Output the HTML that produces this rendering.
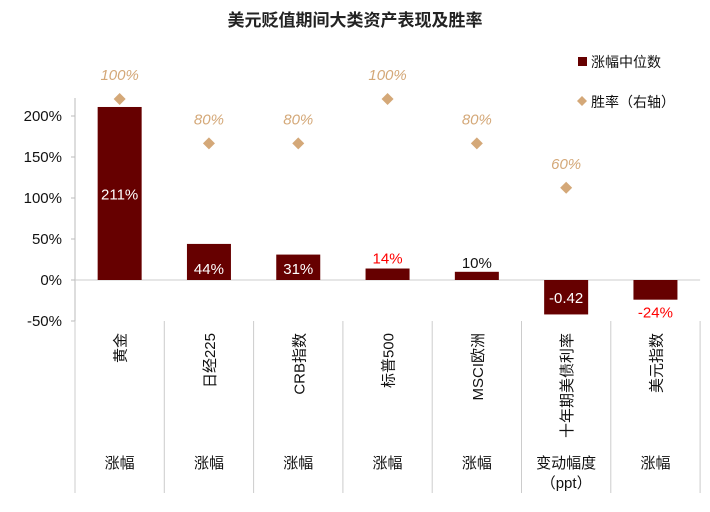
<!DOCTYPE html>
<html><head><meta charset="utf-8"><style>
body{margin:0;background:#fff;}
svg text{font-family:"Liberation Sans","Noto Sans CJK SC",sans-serif;}
</style></head><body>
<svg width="710" height="507" viewBox="0 0 710 507">
<text x="355" y="26" text-anchor="middle" font-size="17" font-weight="bold" fill="#222">美元贬值期间大类资产表现及胜率</text>
<g id="axes"></g><g id="bars"></g><g id="dots"></g><g id="labels"></g>
<g>
<rect x="578" y="57" width="9" height="9" fill="#660000"/>
<text x="591" y="67" font-size="14" fill="#111">涨幅中位数</text>
<path d="M582 96 L587 101 L582 106 L577 101 Z" fill="#d4a878"/>
<text x="591" y="107" font-size="14" fill="#111">胜率（右轴）</text>
</g>
</svg>
<script>
const categories=["黄金","日经225","CRB指数","标普500","MSCI欧洲","十年期美债利率","美元指数"];
const subLabels=["涨幅","涨幅","涨幅","涨幅","涨幅","变动幅度","涨幅"];
const barValues=[211,44,31,14,10,-42,-24];
const barLabels=["211%","44%","31%","14%","10%","-0.42","-24%"];
const winRates=[100,80,80,100,80,60,null];
const yTicks=[-50,0,50,100,150,200];
const NS="http://www.w3.org/2000/svg";
const x0=75,catW=89.3,zeroY=280;
const yL=v=>zeroY-v*0.82;
const yR=v=>321-v*2.22;
function mk(tag,attrs,parent,txt){const e=document.createElementNS(NS,tag);for(const k in attrs)e.setAttribute(k,attrs[k]);if(txt!=null)e.textContent=txt;document.getElementById(parent).appendChild(e);return e;}
let ax=mk('line',{x1:x0,y1:98,x2:x0,y2:yL(-50),stroke:'#bbb'},'axes');

let zl=mk('line',{x1:x0,y1:zeroY,x2:x0+catW*7,y2:zeroY,stroke:'#ccc'},'axes');

yTicks.forEach(t=>{const tk=mk('line',{x1:x0-4,y1:yL(t),x2:x0,y2:yL(t),stroke:'#bbb'},'axes');

const tl=mk('text',{x:62,y:yL(t)+5,'text-anchor':'end','font-size':15,fill:'#111'},'axes',t+'%');
});
for(let i=0;i<=7;i++){const d=mk('line',{x1:x0+i*catW,y1:yL(-50),x2:x0+i*catW,y2:493,stroke:'#ccc'},'axes');
}
categories.forEach((c,i)=>{const cx=x0+catW*(i+0.5),v=barValues[i];
const b=mk('rect',{x:cx-22,y:Math.min(yL(v),zeroY),width:44,height:Math.abs(yL(v)-zeroY),fill:'#660000'},'bars');

let ly,col;
if(i===0){ly=(yL(v)+zeroY)/2+6;col='#fff';}
else if(i===1||i===2){ly=zeroY-6;col='#fff';}
else if(i===3){ly=yL(v)-5;col='#ff0000';}
else if(i===4){ly=yL(v)-4;col='#111';}
else if(i===5){ly=zeroY+23;col='#fff';}
else{ly=yL(v)+18;col='#ff0000';}
const bl=mk('text',{x:cx,y:ly,'text-anchor':'middle','font-size':15,fill:col},'labels',barLabels[i]);

if(winRates[i]!=null){const wy=yR(winRates[i]);
const p=mk('path',{d:`M${cx} ${wy-6} L${cx+6} ${wy} L${cx} ${wy+6} L${cx-6} ${wy} Z`,fill:'#d4a878'},'dots');

const wl=mk('text',{x:cx,y:wy-19,'text-anchor':'middle','font-size':15,'font-style':'italic',fill:'#d4a878'},'labels',winRates[i]+'%');
}
const cl=mk('text',{x:0,y:0,transform:`translate(${cx+6},333) rotate(-90)`,'text-anchor':'end','font-size':15,fill:'#111'},'labels',c);

const sl=mk('text',{x:cx,y:468,'text-anchor':'middle','font-size':15,fill:'#111'},'labels',subLabels[i]);

if(i===5){const pl=mk('text',{x:cx,y:488,'text-anchor':'middle','font-size':15,fill:'#111'},'labels','（ppt）');
}
});
</script>
</body></html>
